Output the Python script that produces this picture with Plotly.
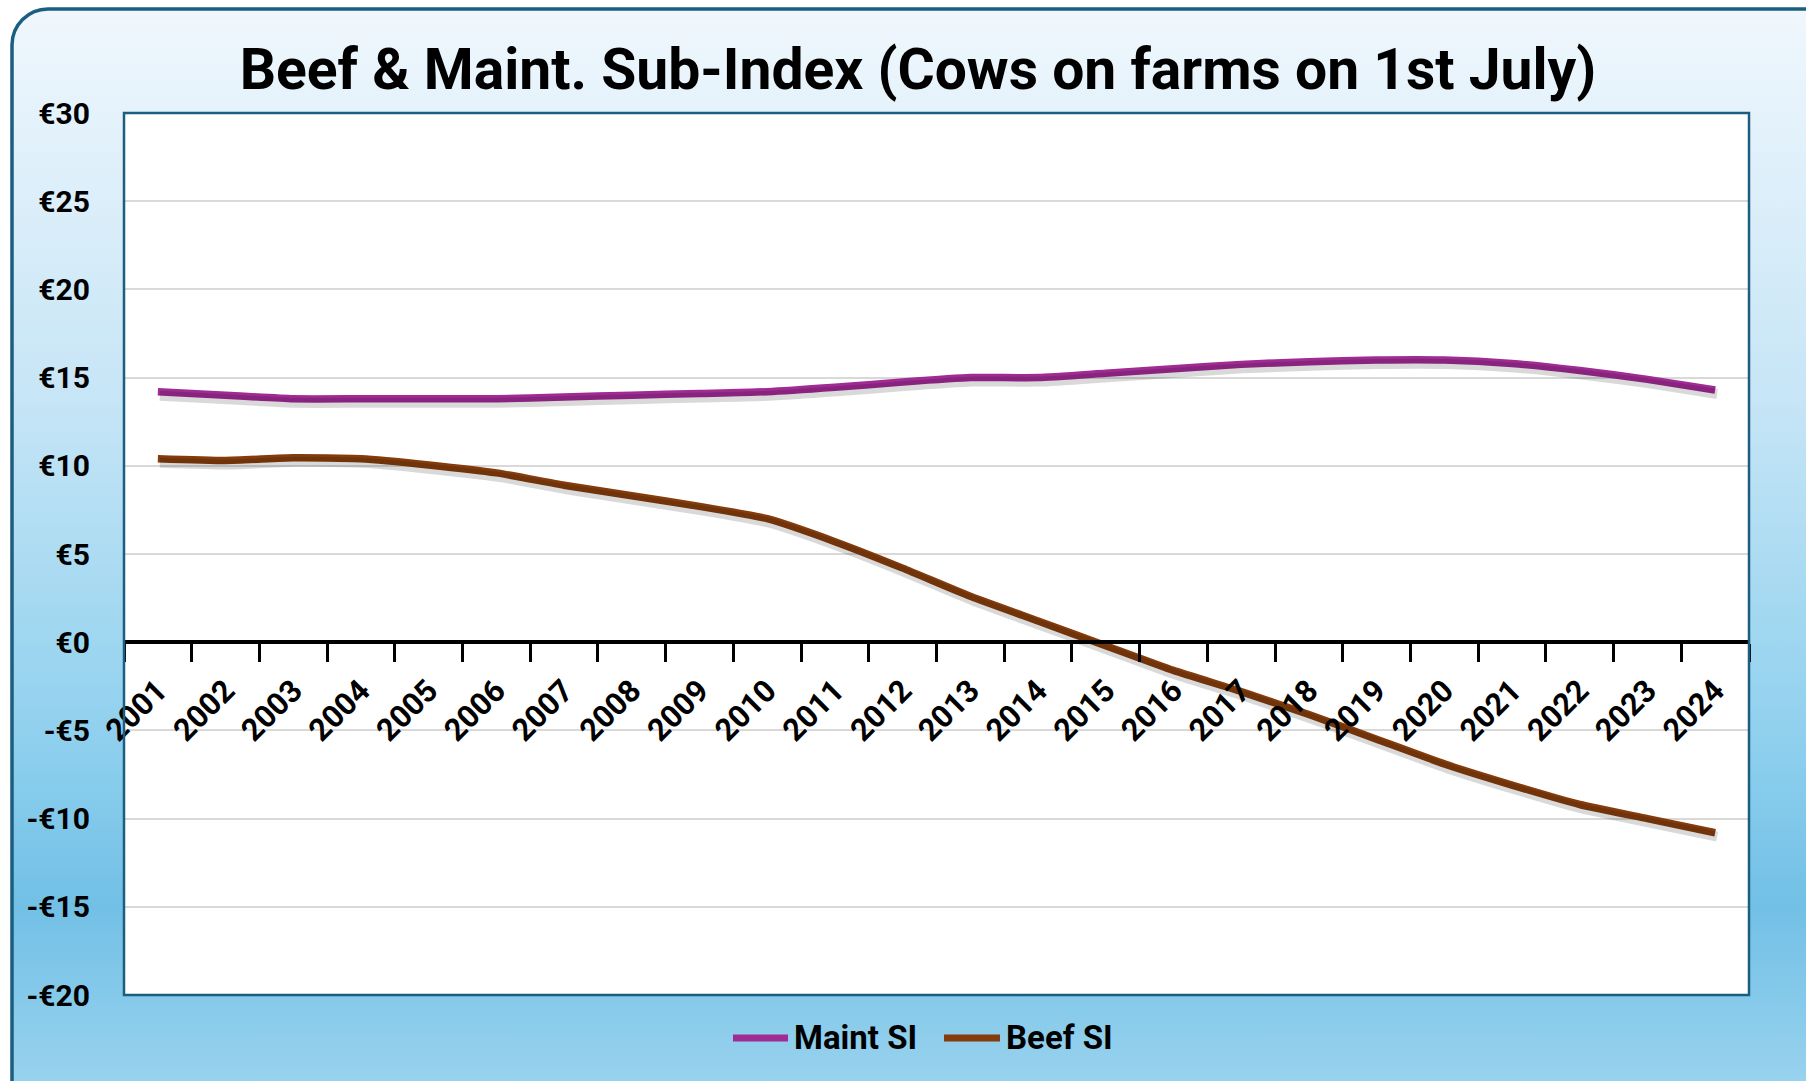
import base64
import plotly.graph_objects as go

years = [str(y) for y in range(2001, 2025)]
maint_si = [14.2, 14.0, 13.8, 13.8, 13.8, 13.8, 13.9, 14.0, 14.1, 14.2, 14.45, 14.75,
            15.0, 15.0, 15.25, 15.5, 15.75, 15.9, 16.0, 16.0, 15.8, 15.4, 14.9, 14.3]
beef_si = [10.4, 10.3, 10.45, 10.4, 10.05, 9.6, 8.9, 8.3, 7.7, 7.0, 5.7, 4.2,
           2.6, 1.2, -0.2, -1.6, -2.8, -4.1, -5.5, -6.9, -8.1, -9.2, -10.0, -10.8]
series_names = ["Maint SI", "Beef SI"]
series_colors = ["#A02B93", "#843C0C"]
y_tick_vals = [30, 25, 20, 15, 10, 5, 0, -5, -10, -15, -20]
y_tick_text = ["€30", "€25", "€20", "€15", "€10", "€5", "€0", "-€5", "-€10", "-€15", "-€20"]

W, H = 1806, 1081
ML, MR, MT, MB = 124, 57, 113, 86
PW, PH = W - ML - MR, H - MT - MB
Y_MIN, Y_MAX = -20, 30
SHADOW_DX, SHADOW_DY = 2, 4  # shadow offset in pixels

FONT = "Roboto, 'Liberation Sans', sans-serif"

svg = f'''<svg xmlns="http://www.w3.org/2000/svg" width="{W}" height="{H}" viewBox="0 0 {W} {H}" preserveAspectRatio="none">
<defs><linearGradient id="g" x1="0" y1="0" x2="0" y2="1">
<stop offset="0" stop-color="#f0f7fd"/>
<stop offset="0.35" stop-color="#c6e5f6"/>
<stop offset="0.65" stop-color="#8fd0ee"/>
<stop offset="0.8" stop-color="#72c0e6"/>
<stop offset="1" stop-color="#a2d7f0"/>
</linearGradient></defs>
<rect x="12" y="9" width="{W+40}" height="{H+40}" rx="36" ry="36" fill="url(#g)" stroke="#1b5e80" stroke-width="3.5"/>
</svg>'''
src = "data:image/svg+xml;base64," + base64.b64encode(svg.encode()).decode()

dy_units = SHADOW_DY * (Y_MAX - Y_MIN) / PH
dx_units = SHADOW_DX * len(years) / PW

fig = go.Figure()
for vals in (maint_si, beef_si):
    fig.add_trace(go.Scatter(x=years, y=vals, mode="lines", showlegend=False, hoverinfo="skip",
                             xaxis="x2", yaxis="y2",
                             line=dict(color="rgba(0,0,0,0.15)", width=10, shape="spline", smoothing=0.5)))
for vals, name, color in zip((maint_si, beef_si), series_names, series_colors):
    fig.add_trace(go.Scatter(x=years, y=vals, name=name, mode="lines", showlegend=False,
                             line=dict(color=color, width=7.5, shape="spline", smoothing=0.5)))

def px_x(p):
    return (p - ML) / PW

def px_y(p):
    return 1 - (p - MT) / PH

legend_y = 1038
legend_items = [(733, 788, 792), (944, 1000, 1004)]
shapes = [dict(type="rect", xref="paper", yref="paper", x0=0, x1=1, y0=0, y1=1,
               fillcolor="white", line=dict(width=0), layer="below"),
          dict(type="rect", xref="paper", yref="paper", x0=0, x1=1, y0=0, y1=1,
               line=dict(color="#1b5e80", width=2.5), layer="above")]
annotations = []
for (lx0, lx1, tx), name, color in zip(legend_items, series_names, series_colors):
    shapes.append(dict(type="line", xref="paper", yref="paper",
                       x0=px_x(lx0), x1=px_x(lx1), y0=px_y(legend_y), y1=px_y(legend_y),
                       line=dict(color=color, width=7)))
    annotations.append(dict(text=name, xref="paper", yref="paper", x=px_x(tx), y=px_y(legend_y - 1),
                            xanchor="left", yanchor="middle", showarrow=False,
                            font=dict(size=33, family=FONT, color="black", weight="bold")))

fig.update_layout(
    width=W, height=H,
    margin=dict(l=ML, r=MR, t=MT, b=MB, pad=0, autoexpand=False),
    paper_bgcolor="rgba(0,0,0,0)",
    plot_bgcolor="rgba(0,0,0,0)",
    font=dict(family=FONT, color="black"),
    title=dict(text="Beef & Maint. Sub-Index (Cows on farms on 1st July)",
               x=918 / W, xanchor="center", y=1 - 69 / H, yanchor="middle",
               font=dict(size=57, family=FONT, color="black", weight="bold")),
    showlegend=False,
    images=[dict(source=src, xref="paper", yref="paper",
                 x=-ML / PW, y=1 + MT / PH, sizex=W / PW, sizey=H / PH,
                 xanchor="left", yanchor="top", sizing="stretch", layer="below")],
    shapes=shapes,
    annotations=annotations,
    xaxis=dict(
        type="category", range=[-0.5, 23.5], anchor="free", position=-Y_MIN / (Y_MAX - Y_MIN),
        showline=True, linecolor="black", linewidth=3.5,
        ticks="outside", tickson="boundaries", ticklen=18, tickwidth=3, tickcolor="black",
        tickangle=-45, ticklabelstandoff=16,
        tickfont=dict(size=31, family=FONT, color="black", weight="bold"),
        showgrid=False, zeroline=False,
    ),
    yaxis=dict(
        range=[Y_MIN, Y_MAX], tickvals=y_tick_vals, ticktext=y_tick_text,
        tickfont=dict(size=30, family=FONT, color="black", weight="bold"),
        ticklabelstandoff=33,
        showgrid=True, gridcolor="#d9d9d9", gridwidth=2,
        zeroline=False, showline=False, ticks="",
    ),
    xaxis2=dict(type="category", overlaying="x", range=[-0.5 - dx_units, 23.5 - dx_units],
                visible=False),
    yaxis2=dict(overlaying="y", range=[Y_MIN + dy_units, Y_MAX + dy_units], visible=False),
)

fig.write_html("out.html", config={"displayModeBar": False},
               post_script="document.body.style.margin='0';document.body.style.overflow='hidden';")
